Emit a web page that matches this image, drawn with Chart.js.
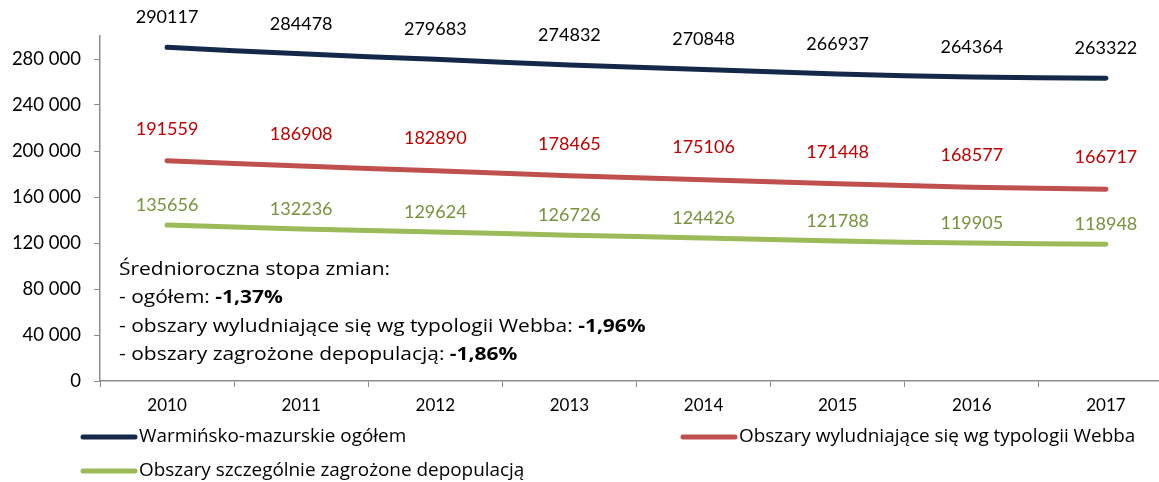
<!DOCTYPE html>
<html>
<head>
<meta charset="utf-8">
<script src="https://cdn.jsdelivr.net/npm/chart.js@4.4.1/dist/chart.umd.min.js"></script>
<style>
  html, body { margin: 0; padding: 0; background: #fff; overflow: hidden; }
  #box { width: 1175px; height: 482px; }
</style>
</head>
<body>
<div id="box"><canvas id="wykres" width="1175" height="482"></canvas></div>
<script>
const lata = ['2010', '2011', '2012', '2013', '2014', '2015', '2016', '2017'];
const ogolem = [290117, 284478, 279683, 274832, 270848, 266937, 264364, 263322];
const webba = [191559, 186908, 182890, 178465, 175106, 171448, 168577, 166717];
const zagrozone = [135656, 132236, 129624, 126726, 124426, 121788, 119905, 118948];
const nazwy = ['Warmińsko-mazurskie ogółem', 'Obszary wyludniające się wg typologii Webba', 'Obszary szczególnie zagrożone depopulacją'];
const osY = [0, 40000, 80000, 120000, 160000, 200000, 240000, 280000];
const opis = [
    ['Średnioroczna stopa zmian:', ''],
    ['- ogółem: ', '-1,37%'],
    ['- obszary wyludniające się wg typologii Webba: ', '-1,96%'],
    ['- obszary zagrożone depopulacją: ', '-1,86%']
];

const FONT = 'Lato, "Open Sans", sans-serif';
const FONT_TXT = '"Open Sans", Lato, sans-serif';
const kolory = ['#14294a', '#c0504d', '#9bbb59'];
const koloryEtykiet = ['#000000', '#c00000', '#77933c'];
const odstepy = [30, 32, 20];
const ROZCIAG = 1.165;

// etykiety wartości nad punktami
const etykiety = {
    id: 'etykiety',
    afterDatasetsDraw(chart) {
        const ctx = chart.ctx;
        ctx.save();
        ctx.font = '18px ' + FONT;
        ctx.textAlign = 'center';
        ctx.textBaseline = 'middle';
        chart.data.datasets.forEach((ds, i) => {
            ctx.fillStyle = koloryEtykiet[i];
            chart.getDatasetMeta(i).data.forEach((p, j) => {
                ctx.fillText(String(ds.data[j]), p.x, p.y - odstepy[i]);
            });
        });
        ctx.restore();
    }
};

function tekst(ctx, t, x, y, font, sx) {
    ctx.font = font;
    ctx.save();
    ctx.translate(x, y);
    ctx.scale(sx, 1);
    ctx.fillText(t, 0, 0);
    ctx.restore();
    return ctx.measureText(t).width * sx;
}

// tekst z opisem i legenda
const dodatki = {
    id: 'dodatki',
    afterDraw(chart) {
        const ctx = chart.ctx;
        ctx.save();
        ctx.textBaseline = 'middle';
        ctx.fillStyle = '#000';
        opis.forEach((w, i) => {
            const y = 270 + i * 28.2;
            const szer = tekst(ctx, w[0], 119, y, '18px ' + FONT_TXT, ROZCIAG);
            tekst(ctx, w[1], 119 + szer, y, 'bold 18px ' + FONT_TXT, ROZCIAG);
        });

        const miejsca = [[80, 437], [680, 437], [80, 471]];
        chart.data.datasets.forEach((ds, i) => {
            const [x, y] = miejsca[i];
            ctx.strokeStyle = kolory[i];
            ctx.lineWidth = 5;
            ctx.lineCap = 'round';
            ctx.beginPath();
            ctx.moveTo(x + 3, y);
            ctx.lineTo(x + 55, y);
            ctx.stroke();
            ctx.fillStyle = '#000';
            tekst(ctx, ds.label, x + 59, y, '17.5px ' + FONT_TXT, 1.08);
        });
        ctx.restore();
    }
};

new Chart(document.getElementById('wykres'), {
    type: 'line',
    data: {
        labels: lata,
        datasets: [
            { label: nazwy[0], data: ogolem, borderColor: kolory[0] },
            { label: nazwy[1], data: webba, borderColor: kolory[1] },
            { label: nazwy[2], data: zagrozone, borderColor: kolory[2] }
        ]
    },
    options: {
        responsive: false,
        animation: false,
        layout: { padding: { top: 36, right: 2, left: 0, bottom: 0 } },
        elements: {
            point: { radius: 0 },
            line: { borderWidth: 5, tension: 0.3, borderCapStyle: 'round', fill: false }
        },
        plugins: {
            legend: { display: false },
            tooltip: { enabled: false }
        },
        scales: {
            x: {
                offset: true,
                grid: { offset: true, drawOnChartArea: false, drawTicks: true, tickLength: 6, color: '#8c8c8c' },
                border: { display: true, color: '#8c8c8c', width: 1.5 },
                ticks: { color: '#000', font: { family: FONT, size: 17 }, padding: 8 },
                afterFit(s) { s.height = 101; }
            },
            y: {
                min: 0,
                max: 300000,
                afterBuildTicks(s) { s.ticks = osY.map(v => ({ value: v })); },
                grid: { drawOnChartArea: false, drawTicks: true, tickLength: 6, color: '#8c8c8c' },
                border: { display: true, color: '#8c8c8c', width: 1.5 },
                ticks: {
                    color: '#000',
                    font: { family: FONT, size: 18.5 },
                    padding: 13,
                    callback: v => v === 0 ? '0' : v.toLocaleString('pl-PL').replace(/\s/g, ' ')
                },
                afterFit(s) { s.width = 100; }
            }
        }
    },
    plugins: [etykiety, dodatki]
});
</script>
</body>
</html>
